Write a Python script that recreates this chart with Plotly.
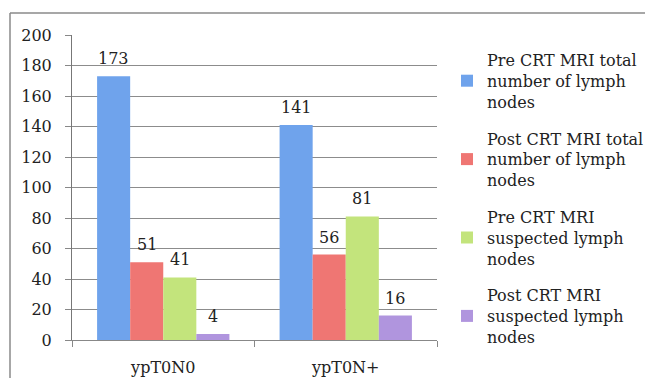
import plotly.graph_objects as go

categories = ["ypT0N0", "ypT0N+"]
series_names = [
    "Pre CRT MRI total<br>number of lymph<br>nodes",
    "Post CRT MRI total<br>number of lymph<br>nodes",
    "Pre CRT MRI<br>suspected lymph<br>nodes",
    "Post CRT MRI<br>suspected lymph<br>nodes",
]
pre_total = [173, 141]
post_total = [51, 56]
pre_susp = [41, 81]
post_susp = [4, 16]
series_values = [pre_total, post_total, pre_susp, post_susp]
colors = ["#6FA3EC", "#EF7673", "#C3E47C", "#B095DE"]
y_ticks = list(range(0, 201, 20))

FONT = "DejaVu Serif"
FS = 16

# page body has an 8px default margin; figure sized to fill the rest
OFF = 8
W, H = 653 - OFF, 378 - OFF
L, T = 72 - OFF, 35 - OFF
R = W - (437 - OFF)
B = H - (340 - OFF)
pw = W - L - R
ph = H - T - B

def px(xs):  # screen x -> paper x
    return (xs - 72) / pw

def py(ys):  # screen y -> paper y
    return (340 - ys) / ph

BARGAP = 0.275
n = len(series_values)
bar_px = pw / len(categories) * (1 - BARGAP) / n

fig = go.Figure()
annotations = []
for i, (name, vals, col) in enumerate(zip(series_names, series_values, colors)):
    fig.add_trace(go.Bar(
        x=categories, y=vals, name=name,
        marker=dict(color=col, line=dict(width=0)),
        legendgroup=f"g{i}",
    ))
    for c, v in zip(categories, vals):
        annotations.append(dict(
            x=c, y=v, xref="x", yref="y", text=str(v), showarrow=False,
            xanchor="center", yanchor="bottom",
            xshift=(i - (n - 1) / 2) * bar_px, yshift=6,
            font=dict(family=FONT, size=FS, color="#222"),
        ))

fig.update_layout(
    width=W, height=H,
    margin=dict(l=L, r=R, t=T, b=B, autoexpand=False),
    paper_bgcolor="white", plot_bgcolor="white",
    barmode="group", bargap=BARGAP, bargroupgap=0,
    font=dict(family=FONT, size=FS, color="#222"),
    showlegend=True,
    legend=dict(
        x=px(447), y=py(43), xanchor="left", yanchor="top",
        font=dict(family=FONT, size=FS, color="#222"),
        tracegroupgap=13, itemwidth=30, bgcolor="rgba(0,0,0,0)",
        maxheight=H,
    ),
    xaxis=dict(
        showline=True, linecolor="#888", linewidth=1,
        ticks="outside", tickson="boundaries", ticklen=6, tickcolor="#888",
        ticklabelstandoff=13, showgrid=False,
        tickfont=dict(family=FONT, size=FS, color="#222"),
    ),
    yaxis=dict(
        range=[0, 200], tickvals=y_ticks,
        showline=True, linecolor="#777", linewidth=1,
        ticks="outside", ticklen=6, tickcolor="#888",
        showgrid=True, gridcolor="#8c8c8c", gridwidth=1,
        zeroline=False, ticklabelstandoff=10,
        tickfont=dict(family=FONT, size=FS, color="#222"),
    ),
    annotations=annotations,
    shapes=[
        dict(type="line", xref="paper", yref="paper",
             x0=px(10), x1=px(660), y0=py(13), y1=py(13),
             line=dict(color="#8a8a8a", width=1.5)),
        dict(type="line", xref="paper", yref="paper",
             x0=px(10), x1=px(10), y0=py(13), y1=py(385),
             line=dict(color="#8a8a8a", width=1.5)),
    ],
)

fig.write_html("out.html")
